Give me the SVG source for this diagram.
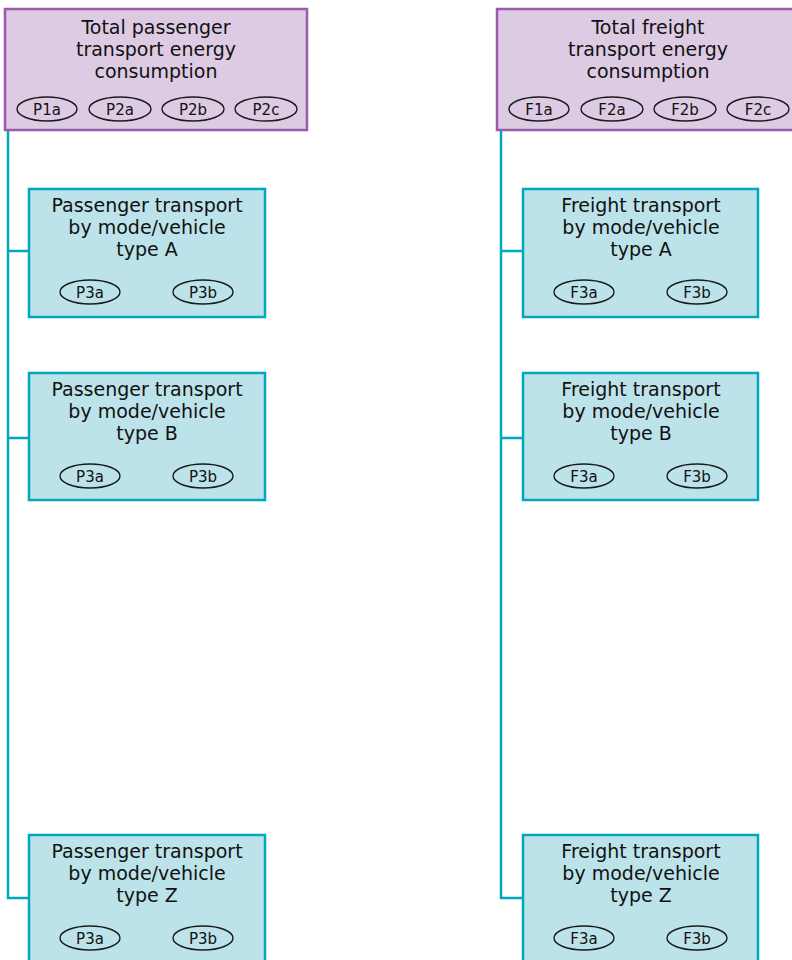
<svg xmlns="http://www.w3.org/2000/svg" width="792" height="960" viewBox="0 0 792 960">
<style>
.top{fill:#dccbe3;stroke:#9d5aab;stroke-width:2.5}
.sub{fill:#bde3ea;stroke:#00a8bd;stroke-width:2.5}
.ov{fill:none;stroke:#1a1a1a;stroke-width:1.4}
.t{font-family:"DejaVu Sans","Noto Sans",sans-serif;font-size:19px;fill:#111;text-anchor:middle}
.o{font-family:"DejaVu Sans","Noto Sans",sans-serif;font-size:15px;fill:#111;text-anchor:middle}
.c{fill:none;stroke:#00a8bd;stroke-width:2.5}
</style>
<g id="connectors">
<path class="c" d="M8 130 V898 H29 M8 251 H29 M8 438 H29"/>
<path class="c" d="M501 130 V898 H523 M501 251 H523 M501 438 H523"/>
</g>
<g id="total-passenger">
<rect class="top" x="5" y="9" width="302" height="121"/>
<text class="t" x="156" y="34">Total passenger</text>
<text class="t" x="156" y="56">transport energy</text>
<text class="t" x="156" y="78">consumption</text>
<ellipse class="ov" cx="47" cy="109" rx="30" ry="12"/><text class="o" x="47" y="114.5">P1a</text>
<ellipse class="ov" cx="120" cy="109" rx="31" ry="12"/><text class="o" x="120" y="114.5">P2a</text>
<ellipse class="ov" cx="193" cy="109" rx="31" ry="12"/><text class="o" x="193" y="114.5">P2b</text>
<ellipse class="ov" cx="266" cy="109" rx="31" ry="12"/><text class="o" x="266" y="114.5">P2c</text>
</g>
<g id="total-freight">
<rect class="top" x="497" y="9" width="302" height="121"/>
<text class="t" x="648" y="34">Total freight</text>
<text class="t" x="648" y="56">transport energy</text>
<text class="t" x="648" y="78">consumption</text>
<ellipse class="ov" cx="539" cy="109" rx="30" ry="12"/><text class="o" x="539" y="114.5">F1a</text>
<ellipse class="ov" cx="612" cy="109" rx="31" ry="12"/><text class="o" x="612" y="114.5">F2a</text>
<ellipse class="ov" cx="685" cy="109" rx="31" ry="12"/><text class="o" x="685" y="114.5">F2b</text>
<ellipse class="ov" cx="758" cy="109" rx="31" ry="12"/><text class="o" x="758" y="114.5">F2c</text>
</g>
<g id="passenger-a">
<rect class="sub" x="29" y="189" width="236" height="128"/>
<text class="t" x="147" y="212">Passenger transport</text>
<text class="t" x="147" y="234">by mode/vehicle</text>
<text class="t" x="147" y="256">type A</text>
<ellipse class="ov" cx="90" cy="292" rx="30" ry="12"/><text class="o" x="90" y="297.5">P3a</text>
<ellipse class="ov" cx="203" cy="292" rx="30" ry="12"/><text class="o" x="203" y="297.5">P3b</text>
</g>
<g id="passenger-b">
<rect class="sub" x="29" y="373" width="236" height="127"/>
<text class="t" x="147" y="396">Passenger transport</text>
<text class="t" x="147" y="418">by mode/vehicle</text>
<text class="t" x="147" y="440">type B</text>
<ellipse class="ov" cx="90" cy="476" rx="30" ry="12"/><text class="o" x="90" y="481.5">P3a</text>
<ellipse class="ov" cx="203" cy="476" rx="30" ry="12"/><text class="o" x="203" y="481.5">P3b</text>
</g>
<g id="passenger-z">
<rect class="sub" x="29" y="835" width="236" height="140"/>
<text class="t" x="147" y="858">Passenger transport</text>
<text class="t" x="147" y="880">by mode/vehicle</text>
<text class="t" x="147" y="902">type Z</text>
<ellipse class="ov" cx="90" cy="938" rx="30" ry="12"/><text class="o" x="90" y="943.5">P3a</text>
<ellipse class="ov" cx="203" cy="938" rx="30" ry="12"/><text class="o" x="203" y="943.5">P3b</text>
</g>
<g id="freight-a">
<rect class="sub" x="523" y="189" width="235" height="128"/>
<text class="t" x="641" y="212">Freight transport</text>
<text class="t" x="641" y="234">by mode/vehicle</text>
<text class="t" x="641" y="256">type A</text>
<ellipse class="ov" cx="584" cy="292" rx="30" ry="12"/><text class="o" x="584" y="297.5">F3a</text>
<ellipse class="ov" cx="697" cy="292" rx="30" ry="12"/><text class="o" x="697" y="297.5">F3b</text>
</g>
<g id="freight-b">
<rect class="sub" x="523" y="373" width="235" height="127"/>
<text class="t" x="641" y="396">Freight transport</text>
<text class="t" x="641" y="418">by mode/vehicle</text>
<text class="t" x="641" y="440">type B</text>
<ellipse class="ov" cx="584" cy="476" rx="30" ry="12"/><text class="o" x="584" y="481.5">F3a</text>
<ellipse class="ov" cx="697" cy="476" rx="30" ry="12"/><text class="o" x="697" y="481.5">F3b</text>
</g>
<g id="freight-z">
<rect class="sub" x="523" y="835" width="235" height="140"/>
<text class="t" x="641" y="858">Freight transport</text>
<text class="t" x="641" y="880">by mode/vehicle</text>
<text class="t" x="641" y="902">type Z</text>
<ellipse class="ov" cx="584" cy="938" rx="30" ry="12"/><text class="o" x="584" y="943.5">F3a</text>
<ellipse class="ov" cx="697" cy="938" rx="30" ry="12"/><text class="o" x="697" y="943.5">F3b</text>
</g>
</svg>
